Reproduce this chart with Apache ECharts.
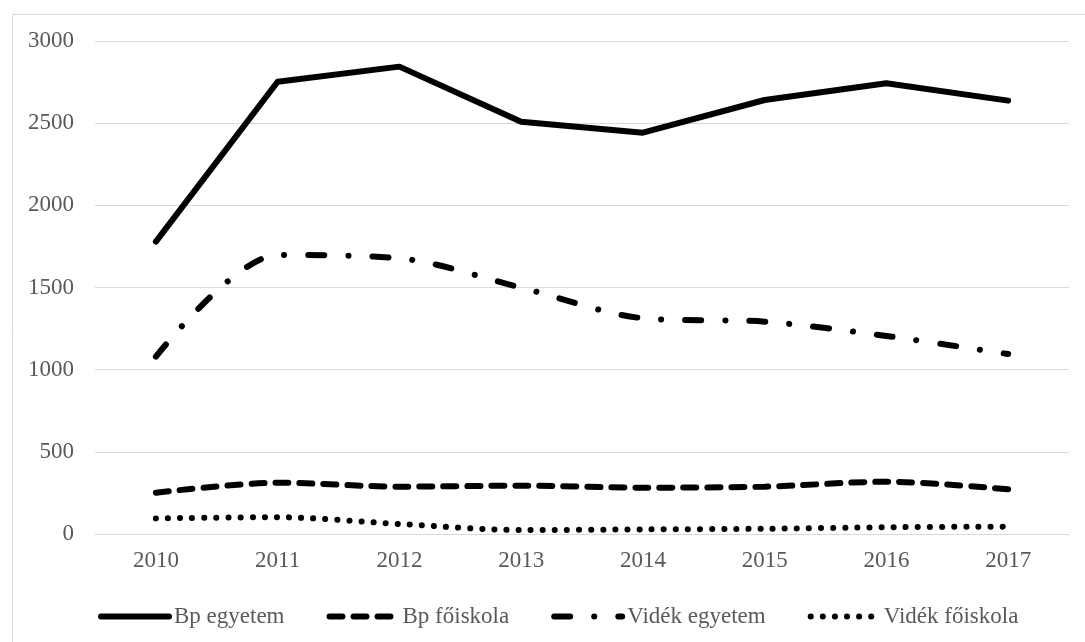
<!DOCTYPE html>
<html>
<head>
<meta charset="utf-8">
<script src="https://cdn.jsdelivr.net/npm/echarts@6/dist/echarts.min.js"></script>
<style>html,body{margin:0;padding:0;background:#fff}#c{width:1085px;height:642px}</style>
</head>
<body>
<div id="c"></div>
<script>
const years = ['2010','2011','2012','2013','2014','2015','2016','2017'];
const bpEgyetem = [1779, 2752, 2844, 2509, 2442, 2641, 2743, 2637];
const bpFoiskola = [251, 312, 288, 294, 282, 288, 318, 272];
const videkEgyetem = [1079, 1698, 1678, 1499, 1313, 1292, 1205, 1095];
const videkFoiskola = [95, 102, 61, 24, 28, 32, 41, 45];
const yTicks = {min: 0, max: 3000, interval: 500};

const font = 'Liberation Serif';
const chart = echarts.init(document.getElementById('c'), null, {renderer: 'canvas'});
chart.setOption({
  animation: false,
  backgroundColor: '#fff',
  graphic: [{
    type: 'rect', left: 10, top: 12, silent: true,
    shape: {x: 0, y: 0, width: 1100, height: 700},
    style: {fill: 'none', stroke: '#d9d9d9', lineWidth: 1}
  }],
  grid: {left: 95, right: 16, top: 41, bottom: 108, containLabel: false},
  legend: {
    left: 93, top: 600,
    itemWidth: 68, itemHeight: 14, itemGap: 42,
    itemStyle: {opacity: 0},
    lineStyle: {width: 6, cap: 'round'},
    textStyle: {fontFamily: font, fontSize: 23, color: '#595959', padding: [0, 0, 0, 0]},
    data: ['Bp egyetem', 'Bp főiskola', 'Vidék egyetem', 'Vidék főiskola']
  },
  xAxis: {
    type: 'category', data: years, boundaryGap: true,
    axisLine: {show: true, lineStyle: {color: '#d9d9d9', width: 1}},
    axisTick: {show: false},
    axisLabel: {fontFamily: font, fontSize: 23, color: '#595959', margin: 15}
  },
  yAxis: {
    type: 'value', min: yTicks.min, max: yTicks.max, interval: yTicks.interval,
    axisLine: {show: false}, axisTick: {show: false},
    splitLine: {lineStyle: {color: '#d9d9d9', width: 1}},
    axisLabel: {fontFamily: font, fontSize: 23, color: '#595959', margin: 21,
      formatter: function (v) { return String(v); }}
  },
  series: [
    {name: 'Bp egyetem', type: 'line', data: bpEgyetem, symbol: 'none',
     lineStyle: {color: '#000', width: 6, cap: 'round', join: 'round'}, itemStyle: {color: '#000'}},
    {name: 'Bp főiskola', type: 'line', data: bpFoiskola, symbol: 'none', smooth: 0.3,
     lineStyle: {color: '#000', width: 6, type: [13, 11], cap: 'round'}, itemStyle: {color: '#000'}},
    {name: 'Vidék egyetem', type: 'line', data: videkEgyetem, symbol: 'none', smooth: 0.3,
     lineStyle: {color: '#000', width: 6, type: [16, 24, 0.1, 24], cap: 'round'}, itemStyle: {color: '#000'}},
    {name: 'Vidék főiskola', type: 'line', data: videkFoiskola, symbol: 'none', smooth: 0.3,
     lineStyle: {color: '#000', width: 6, type: [0.1, 12], cap: 'round'}, itemStyle: {color: '#000'}}
  ]
});
</script>
</body>
</html>
